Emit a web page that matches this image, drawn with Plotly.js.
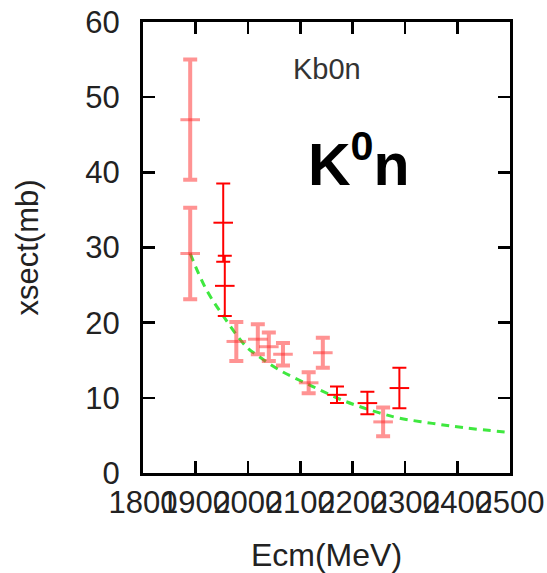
<!DOCTYPE html>
<html>
<head>
<meta charset="utf-8">
<script src="https://cdn.plot.ly/plotly-3.0.1.min.js"></script>
<style>html,body{margin:0;padding:0;background:#fff;}#chart{width:547px;height:573px;}</style>
</head>
<body>
<div id="chart"></div>
<script>
// Data set A (drawn pale/thick)
const ecmA = [1890, 1890, 1978, 2019, 2040, 2067, 2116, 2143, 2258];
const xsA  = [47.0, 29.2, 17.5, 17.8, 16.8, 15.8, 12.0, 16.0, 6.8];
const errA = [8.0, 6.1, 2.6, 2.0, 1.9, 1.5, 1.4, 2.0, 1.9];
// Data set B (drawn saturated/thin)
const ecmB = [1953, 1956, 2170, 2228, 2289];
const xsB  = [33.3, 24.9, 10.4, 9.3, 11.3];
const errB = [5.2, 4.0, 1.1, 1.5, 2.7];
// Fit curve
const fitE  = [1890, 1920, 1953, 1997, 2019, 2060, 2124, 2187, 2251, 2289, 2352, 2415, 2500];
const fitXs = [29.2, 24.5, 20.9, 16.8, 15.6, 13.7, 11.5, 9.5, 8.0, 7.3, 6.6, 6.0, 5.4];
const xTicks = [1800, 1900, 2000, 2100, 2200, 2300, 2400, 2500];
const yTicks = [0, 10, 20, 30, 40, 50, 60];

const FONT = 'Liberation Sans, Arial, sans-serif';
const PALE = 'rgba(255,40,40,0.5)';
const traces = [
  {
    x: fitE, y: fitXs, mode: 'lines', type: 'scatter',
    line: {color: '#3fe83f', width: 3, dash: '8px,6px', shape: 'spline'},
    hoverinfo: 'skip', showlegend: false
  },
  {
    x: ecmA, y: xsA, mode: 'markers', type: 'scatter',
    marker: {symbol: 'line-ew-open', size: 14, color: PALE, line: {color: PALE, width: 3}},
    error_y: {type: 'data', array: errA, visible: true, color: PALE, thickness: 4, width: 7},
    showlegend: false
  },
  {
    x: ecmB, y: xsB, mode: 'markers', type: 'scatter',
    marker: {symbol: 'line-ew-open', size: 14, color: '#ff0000', line: {color: '#ff0000', width: 2}},
    error_y: {type: 'data', array: errB, visible: true, color: '#ff0000', thickness: 2, width: 7},
    showlegend: false
  }
];

const axisCommon = {
  showline: true, linecolor: '#000', linewidth: 3, mirror: 'ticks',
  ticks: 'inside', ticklen: 12, tickwidth: 2.5, tickcolor: '#000',
  showgrid: false, zeroline: false,
  tickfont: {family: FONT, size: 31, color: '#222'}
};

const layout = {
  width: 547, height: 573,
  margin: {l: 143, r: 37, t: 22, b: 100},
  paper_bgcolor: '#fff', plot_bgcolor: '#fff',
  xaxis: Object.assign({}, axisCommon, {
    range: [1800, 2500], tickmode: 'array', tickvals: xTicks,
    ticktext: xTicks.map(String), tickangle: 0,
    title: {text: 'Ecm(MeV)', font: {family: FONT, size: 32, color: '#222'}, standoff: 26}
  }),
  yaxis: Object.assign({}, axisCommon, {
    range: [0, 60], tickmode: 'array', tickvals: yTicks,
    ticktext: yTicks.map(String), ticklabelstandoff: 14,
    title: {text: 'xsect(mb)', font: {family: FONT, size: 31, color: '#222'}, standoff: 38}
  }),
  annotations: [
    {text: 'Kb0n', xref: 'paper', yref: 'y', x: 0.5, y: 53.7, showarrow: false,
     font: {family: FONT, size: 29, color: '#333'}},
    {text: 'K<sup>0</sup>n', xref: 'x', yref: 'y', x: 2212, y: 41.6, showarrow: false,
     font: {family: FONT, size: 59, color: '#000', weight: 'bold'}}
  ]
};

Plotly.newPlot('chart', traces, layout, {displayModeBar: false, staticPlot: true});
</script>
</body>
</html>
